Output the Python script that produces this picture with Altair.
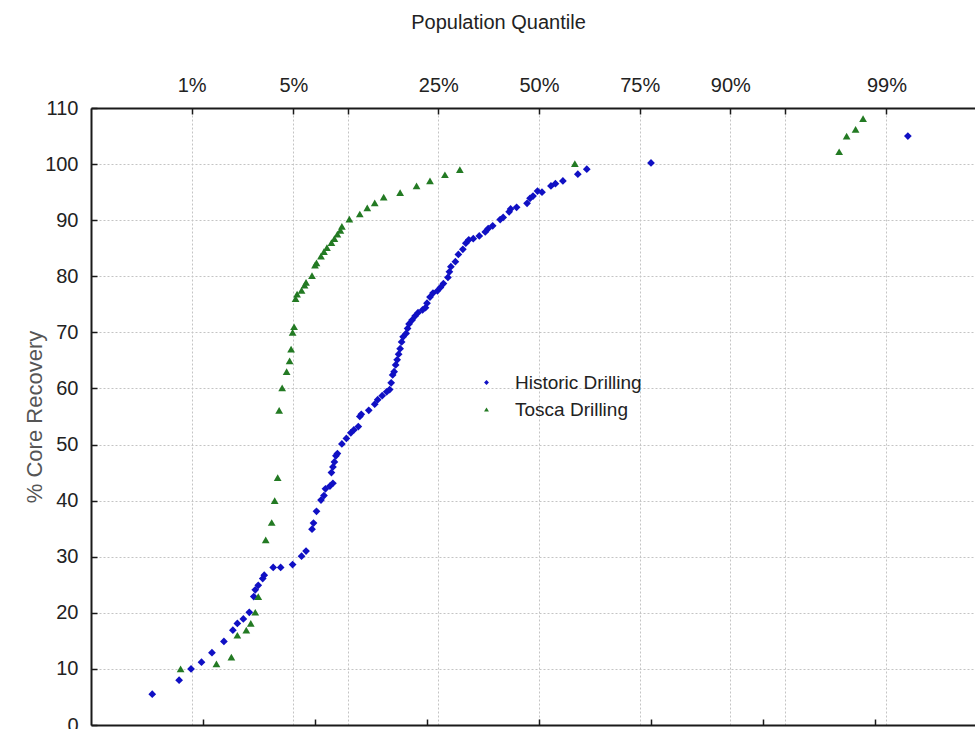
from statistics import NormalDist

import altair as alt
import pandas as pd

# Normal-probability plot of core recovery for two drilling campaigns.
# x values are expected normal scores (z), y values are % core recovery.
series_names = ["Historic Drilling", "Tosca Drilling"]

historic_z = [
    -2.59, -2.41, -2.33, -2.26, -2.19, -2.11, -2.05, -2.02, -1.98, -1.94,
    -1.91, -1.90, -1.88, -1.85, -1.84, -1.78, -1.73, -1.65, -1.59, -1.56,
    -1.52, -1.51, -1.49, -1.46, -1.44, -1.43, -1.40, -1.38, -1.39, -1.38,
    -1.37, -1.36, -1.35, -1.32, -1.29, -1.26, -1.24, -1.21, -1.20, -1.19,
    -1.14, -1.10, -1.08, -1.05, -1.02, -1.00, -0.99, -0.98, -0.97, -0.96,
    -0.95, -0.94, -0.93, -0.92, -0.91, -0.89, -0.88, -0.87, -0.85, -0.83,
    -0.81, -0.78, -0.76, -0.75, -0.73, -0.71, -0.68, -0.66, -0.64, -0.61,
    -0.60, -0.59, -0.56, -0.54, -0.51, -0.49, -0.47, -0.44, -0.40, -0.36,
    -0.34, -0.31, -0.26, -0.24, -0.20, -0.19, -0.15, -0.08, -0.06, -0.04,
    -0.01, 0.02, 0.08, 0.11, 0.16, 0.26, 0.32, 0.75, 2.47,
]
historic_rec = [
    5.5, 8.0, 10.0, 11.2, 12.9, 14.9, 16.9, 18.1, 18.9, 20.1,
    22.9, 24.1, 24.9, 26.1, 26.7, 28.1, 28.1, 28.6, 30.1, 31.0,
    34.9, 36.0, 38.1, 40.1, 40.9, 42.1, 42.6, 43.1, 45.0, 46.0,
    46.9, 48.0, 48.4, 50.1, 51.1, 52.1, 52.6, 53.2, 55.0, 55.4,
    56.1, 57.2, 58.0, 58.7, 59.4, 59.8, 61.0, 62.4, 63.0, 64.2,
    65.1, 66.1, 67.1, 68.3, 69.2, 69.8, 70.7, 71.5, 72.2, 72.9,
    73.5, 74.0, 74.4, 75.2, 76.3, 77.0, 77.4, 78.0, 78.7, 79.8,
    80.8, 81.7, 82.6, 83.9, 84.8, 85.9, 86.5, 86.7, 87.2, 87.9,
    88.5, 89.0, 90.1, 90.5, 91.5, 92.0, 92.3, 93.0, 93.9, 94.3,
    95.2, 95.0, 96.1, 96.5, 97.0, 98.2, 99.1, 100.2, 105.0,
]

tosca_z = [
    -2.40, -2.16, -2.06, -2.02, -1.96, -1.93, -1.90, -1.88, -1.83, -1.79,
    -1.77, -1.75, -1.74, -1.72, -1.69, -1.67, -1.66, -1.65, -1.64, -1.63,
    -1.62, -1.59, -1.57, -1.56, -1.52, -1.50, -1.49, -1.46, -1.44, -1.42,
    -1.39, -1.37, -1.35, -1.33, -1.32, -1.27, -1.20, -1.15, -1.10, -1.04,
    -0.93, -0.82, -0.73, -0.63, -0.53, 0.24, 2.01, 2.06, 2.12, 2.17,
]
tosca_rec = [
    10.0, 10.9, 12.1, 16.0, 16.9, 18.1, 20.1, 22.9, 33.0, 36.1,
    40.0, 44.1, 56.1, 60.1, 63.0, 64.9, 67.0, 70.0, 71.0, 76.0,
    76.8, 77.5, 78.4, 78.9, 80.1, 82.0, 82.4, 83.6, 84.4, 85.1,
    86.0, 86.7, 87.5, 88.2, 88.9, 90.2, 91.1, 92.2, 93.1, 94.1,
    94.9, 96.1, 97.0, 98.1, 99.0, 100.1, 102.2, 105.0, 106.2, 108.1,
]

# Upper axis: population quantiles placed at their normal scores
quantile_pcts = [1, 5, 10, 25, 50, 75, 90, 95, 99]
quantile_labels = ["1%", "5%", "", "25%", "50%", "75%", "90%", "", "99%"]
# Lower axis tick positions (normal-score units)
lower_ticks = [-2.25, -1.5, -0.75, 0, 0.75, 1.5, 2.25]
y_ticks = list(range(0, 111, 10))

nd = NormalDist()
quantile_z = [nd.inv_cdf(p / 100) for p in quantile_pcts]

label_expr = "''"
for zq, lab in zip(quantile_z, quantile_labels):
    label_expr = f"abs(datum.value - ({zq:.6f})) < 0.001 ? '{lab}' : ({label_expr})"

df = pd.concat(
    [
        pd.DataFrame({"z": historic_z, "rec": historic_rec, "series": series_names[0]}),
        pd.DataFrame({"z": tosca_z, "rec": tosca_rec, "series": series_names[1]}),
    ],
    ignore_index=True,
)

FONT = "Liberation Sans"
TEXT = "#222222"
LINE = "#1a1a1a"
GRID = "#c4c4c4"
BLUE = "#1010c4"
GREEN = "#237a23"

PLOT_W = 884      # visible part of the plot area
FULL_W = 896      # full extent of the z range [-3, 3]
PLOT_H = 617

x_scale = alt.Scale(domain=[-3, 3], range=[0, FULL_W], nice=False, zero=False)
y_scale = alt.Scale(domain=[0, 110], nice=False, zero=False)

legend_cfg = dict(
    title="",
    orient="none",
    legendX=386,
    legendY=265,
    labelFont=FONT,
    labelFontSize=19,
    labelColor=TEXT,
    labelLimit=0,
    labelOffset=19,
    symbolSize=24,
    rowPadding=7,
    padding=0,
)

points = alt.Chart(df).mark_point(filled=True, opacity=1, size=60).encode(
    x=alt.X(
        "z:Q",
        scale=x_scale,
        axis=alt.Axis(
            orient="top",
            values=quantile_z,
            labelExpr=label_expr,
            ticks=False,
            labelPadding=13,
            labelFont=FONT,
            labelFontSize=20,
            labelColor=TEXT,
            labelFlush=False,
            labelOverlap=False,
            labelBound=False,
            grid=True,
            gridColor=GRID,
            gridDash=[2, 2],
            gridWidth=1,
            domain=True,
            domainColor=LINE,
            domainWidth=2,
            title="Population Quantile",
            titleFont=FONT,
            titleFontSize=20,
            titleFontWeight="normal",
            titleColor=TEXT,
            titleX=407,
            titleY=-80,
            titleAlign="center",
            titleBaseline="alphabetic",
        ),
    ),
    y=alt.Y(
        "rec:Q",
        scale=y_scale,
        axis=alt.Axis(
            orient="left",
            values=y_ticks,
            ticks=False,
            labelPadding=13,
            labelFont=FONT,
            labelFontSize=20,
            labelColor=TEXT,
            labelFlush=False,
            labelBound=False,
            grid=True,
            gridColor=GRID,
            gridDash=[2, 2],
            gridWidth=1,
            domain=True,
            domainColor=LINE,
            domainWidth=2,
            title="% Core Recovery",
            titleFont=FONT,
            titleFontSize=22,
            titleFontWeight="normal",
            titleColor="#555555",
            titleX=-57,
            titleY=PLOT_H / 2,
            titleAngle=270,
            titleAlign="center",
            titleBaseline="middle",
        ),
    ),
    color=alt.Color(
        "series:N",
        scale=alt.Scale(domain=series_names, range=[BLUE, GREEN]),
        legend=alt.Legend(**legend_cfg),
    ),
    shape=alt.Shape(
        "series:N",
        scale=alt.Scale(domain=series_names, range=["diamond", "triangle-up"]),
        legend=alt.Legend(**legend_cfg),
    ),
)

ghost = alt.Chart(df).mark_point(opacity=0)

# Inward tick marks: axes shifted into the plot by their own tick length
inner_ticks = ghost.encode(
    x=alt.X(
        "z:Q",
        scale=x_scale,
        axis=alt.Axis(
            orient="top", offset=-6, values=quantile_z, tickSize=6, tickWidth=1.5,
            tickColor=LINE, labels=False, domain=False, grid=False, title="",
        ),
    ),
    y=alt.Y(
        "rec:Q",
        scale=y_scale,
        axis=alt.Axis(
            orient="left", offset=-6, values=y_ticks, tickSize=6, tickWidth=1.5,
            tickColor=LINE, labels=False, domain=False, grid=False, title="",
        ),
    ),
)

bottom_line = ghost.encode(
    x=alt.X(
        "z:Q",
        scale=x_scale,
        axis=alt.Axis(
            orient="bottom", values=lower_ticks, ticks=False, labels=False,
            grid=False, domain=True, domainColor=LINE, domainWidth=2, title="",
        ),
    ),
)

bottom_ticks = ghost.encode(
    x=alt.X(
        "z:Q",
        scale=x_scale,
        axis=alt.Axis(
            orient="bottom", offset=-6, values=lower_ticks, tickSize=6, tickWidth=1.5,
            tickColor=LINE, labels=False, domain=False, grid=False, title="",
        ),
    ),
)

chart = (
    alt.layer(points, inner_ticks, bottom_line, bottom_ticks)
    .resolve_axis(x="independent", y="independent")
    .properties(
        width=PLOT_W,
        height=PLOT_H,
        padding={"left": 91, "top": 108, "right": 0, "bottom": 4},
        autosize=alt.AutoSizeParams(type="none"),
        background="white",
    )
    .configure_view(strokeWidth=0)
)

chart.save("out.html", embed_options={"renderer": "svg", "actions": False})
